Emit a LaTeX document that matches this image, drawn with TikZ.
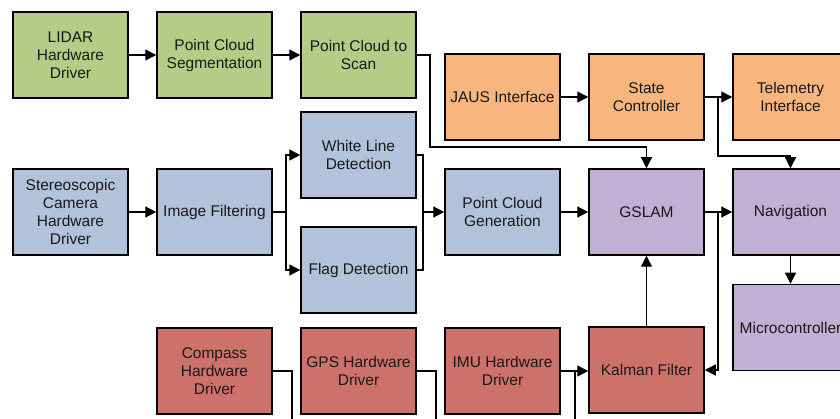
\documentclass[tikz,border=0pt]{standalone}
\usepackage{fontspec}
\setmainfont{Liberation Sans}
\usetikzlibrary{arrows.meta}
\definecolor{cgreen}{RGB}{181,204,134}
\definecolor{corange}{RGB}{248,182,126}
\definecolor{cblue}{RGB}{176,195,218}
\definecolor{cpurple}{RGB}{193,176,211}
\definecolor{cred}{RGB}{205,114,106}
\definecolor{ctext}{RGB}{25,25,25}
\tikzset{
  blockbox/.style={draw=black, line width=1.5pt, minimum width=115pt, minimum height=86pt,
    inner sep=0pt, align=center, text=ctext,
    font=\fontsize{15.5pt}{18pt}\selectfont},
  gbox/.style={blockbox, fill=cgreen},
  obox/.style={blockbox, fill=corange},
  bbox/.style={blockbox, fill=cblue},
  pbox/.style={blockbox, fill=cpurple},
  rbox/.style={blockbox, fill=cred},
  conn/.style={draw=black, line width=1.3pt},
  arr/.style={conn, -{Triangle[length=11pt,width=11pt]}},
}
\begin{document}
\begin{tikzpicture}[x=1pt,y=-1pt]
\clip (0,0) rectangle (840,419);
\fill[white] (0,0) rectangle (840,419);
% green row
\node[gbox] (lidar) at (70.5,55) {LIDAR\\Hardware\\Driver};
\node[gbox] (seg) at (214.5,55) {Point Cloud\\Segmentation};
\node[gbox] (scan) at (358.5,55) {Point Cloud to\\Scan};
% orange row
\node[obox] (jaus) at (502.5,97) {JAUS Interface};
\node[obox] (state) at (646.5,97) {State\\Controller};
\node[obox] (tele) at (790.5,97) {Telemetry\\Interface};
% blue row
\node[bbox] (stereo) at (70.5,212) {Stereoscopic\\Camera\\Hardware\\Driver};
\node[bbox] (imgf) at (214.5,212) {Image Filtering};
\node[bbox] (white) at (358.5,155) {White Line\\Detection};
\node[bbox] (flag) at (358.5,270) {Flag Detection};
\node[bbox] (pcg) at (502.5,212) {Point Cloud\\Generation};
% purple
\node[pbox] (gslam) at (646.5,212) {GSLAM};
\node[pbox] (nav) at (790.5,212) {Navigation};
\node[pbox] (micro) at (790.5,327.5) {Microcontroller};
% red row
\node[rbox] (compass) at (214.5,371) {Compass\\Hardware\\Driver};
\node[rbox] (gps) at (358.5,371) {GPS Hardware\\Driver};
\node[rbox] (imu) at (502.5,371) {IMU Hardware\\Driver};
\node[rbox] (kalman) at (646.5,370) {Kalman Filter};
% coordinates
\coordinate (j1) at (430,147);
\coordinate (b1) at (718,97);
\coordinate (j2) at (718,156);
\coordinate (b2) at (286,212);
\coordinate (j3) at (423,212);
\coordinate (b4) at (718,212);
\coordinate (e1) at (292,425);
\coordinate (e2) at (436,425);
\coordinate (e3) at (575,425);
\coordinate (k1) at (575,371);
% connectors
\draw[arr] (lidar) -- (seg);
\draw[arr] (seg) -- (scan);
\draw[arr] (scan.east) -| (j1) -| (gslam.north);
\draw[arr] (jaus) -- (state);
\draw[arr] (state.east) -- (tele.west);
\draw[arr] (b1) -- (j2) -| (nav.north);
\draw[arr] (stereo) -- (imgf);
\draw[conn] (imgf.east) -- (b2);
\draw[arr] (b2) |- (white.west);
\draw[arr] (b2) |- (flag.west);
\draw[conn] (white.east) -| (j3);
\draw[conn] (flag.east) -| (j3);
\draw[arr] (j3) -- (pcg.west);
\draw[arr] (pcg) -- (gslam);
\draw[arr] (gslam) -- (nav);
\draw[arr] (b4) |- (kalman.east);
\draw[arr] (kalman.north) -- (gslam.south);
\draw[arr] (nav.south) -- (micro.north);
\draw[conn] (compass.east) -| (e1);
\draw[conn] (gps.east) -| (e2);
\draw[arr] (imu.east) -- (kalman.west |- imu.east);
\draw[conn] (e3) -- (k1);
\end{tikzpicture}
\end{document}
